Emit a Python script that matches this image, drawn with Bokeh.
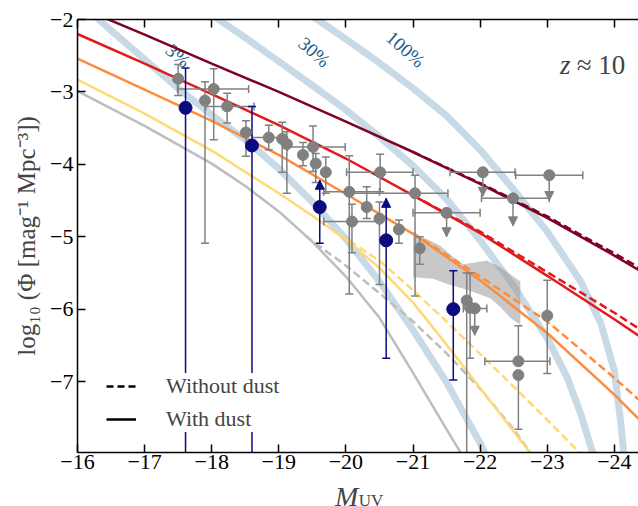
import numpy as np
from bokeh.core.properties import value
from bokeh.embed import file_html
from bokeh.models import (ColumnDataSource, FixedTicker, Label, Legend, LegendItem,
                          LinearAxis, NormalHead, Range1d, TeeHead, Whisker)
from bokeh.plotting import figure
from bokeh.resources import INLINE

SERIF = "Liberation Serif"

# model luminosity functions, with dust (solid) and without dust (dashed)
m_maroon = [-16.0, -17.0, -18.0, -19.0, -20.0, -21.0, -22.0, -23.0, -24.0, -24.4]
phi_maroon = [-1.82, -2.21, -2.61, -3.00, -3.41, -3.83, -4.27, -4.74, -5.26, -5.48]
m_maroon_nd = [-21.0, -22.0, -23.0, -24.0, -24.4]
phi_maroon_nd = [-3.83, -4.26, -4.72, -5.23, -5.44]

m_red = [-16.0, -17.0, -18.0, -19.0, -20.0, -21.0, -22.0, -23.0, -24.0, -24.4]
phi_red = [-2.20, -2.61, -3.03, -3.46, -3.92, -4.43, -4.95, -5.54, -6.14, -6.39]
m_red_nd = [-21.0, -22.0, -23.0, -24.0, -24.4]
phi_red_nd = [-4.43, -4.93, -5.49, -6.05, -6.29]

m_orange = [-16.0, -17.0, -18.0, -19.0, -20.0, -21.0, -22.0, -23.0, -24.0, -24.4]
phi_orange = [-2.54, -2.97, -3.40, -3.87, -4.41, -4.96, -5.60, -6.33, -7.18, -7.55]
m_orange_nd = [-21.0, -22.0, -23.0, -24.0, -24.4]
phi_orange_nd = [-4.95, -5.55, -6.17, -6.95, -7.28]

m_yellow = [-16.0, -17.0, -18.0, -19.0, -19.5, -20.0, -20.5, -21.0, -21.5, -22.0, -22.5, -22.8]
phi_yellow = [-2.83, -3.30, -3.81, -4.40, -4.71, -5.04, -5.43, -5.91, -6.49, -7.09, -7.69, -8.05]
m_yellow_nd = [-19.9, -20.5, -21.0, -21.5, -22.0, -22.5, -23.0, -23.5, -23.6]
phi_yellow_nd = [-4.97, -5.33, -5.74, -6.17, -6.62, -7.07, -7.53, -8.00, -8.09]

m_grey = [-16.0, -17.0, -18.0, -18.5, -19.0, -19.5, -20.0, -20.5, -21.0, -21.5, -21.8]
phi_grey = [-2.99, -3.47, -3.99, -4.30, -4.65, -5.07, -5.55, -6.12, -6.88, -7.66, -8.12]
m_grey_nd = [-19.4, -20.0, -20.5, -21.0, -21.5, -22.0, -22.5, -22.8]
phi_grey_nd = [-4.99, -5.40, -5.78, -6.17, -6.61, -7.10, -7.66, -8.05]

# constant efficiency curves
m_eff3 = [-16.2, -16.5, -17.0, -17.5, -18.0, -18.5, -19.0, -19.5, -20.0, -20.5, -21.0, -21.5, -22.0, -22.1]
phi_eff3 = [-1.90, -2.15, -2.55, -2.95, -3.32, -3.66, -4.06, -4.52, -5.03, -5.62, -6.29, -7.01, -7.85, -8.05]
m_eff30 = [-17.9, -18.5, -19.0, -19.5, -20.0, -20.5, -21.0, -21.5, -22.0, -22.5, -23.0, -23.3, -23.5, -23.7]
phi_eff30 = [-1.87, -2.25, -2.58, -2.91, -3.25, -3.62, -4.02, -4.48, -5.05, -5.68, -6.40, -6.95, -7.45, -8.05]
m_eff100 = [-19.4, -20.0, -20.5, -21.0, -21.5, -22.0, -22.5, -23.0, -23.5, -23.8, -24.0, -24.1, -24.15]
phi_eff100 = [-1.89, -2.27, -2.60, -2.95, -3.33, -3.80, -4.35, -4.93, -5.62, -6.20, -6.85, -7.60, -8.10]
eff_labels = ["3%", "30%", "100%"]
eff_label_m = [-17.50, -19.53, -20.89]
eff_label_phi = [-2.50, -2.45, -2.41]

# shaded constraint
shade_m = [-21.0, -21.2, -21.4, -21.6, -21.75, -21.9, -22.1, -22.3, -22.45, -22.6,
           -22.6, -22.45, -22.3, -22.15, -21.95, -21.75, -21.5, -21.3, -21.0]
shade_phi = [-4.98, -5.03, -5.12, -5.28, -5.38, -5.36, -5.33, -5.42, -5.52, -5.62,
             -6.22, -6.12, -5.97, -5.85, -5.78, -5.72, -5.65, -5.58, -5.56]

# grey observations (None = no bar / open to the bottom)
obs_m = [-17.50, -17.90, -18.03, -18.23, -18.51, -18.85, -19.05, -19.12, -19.36, -19.51,
         -19.55, -19.70, -20.05, -20.51, -20.09, -21.03, -20.31, -20.50, -20.79, -21.10,
         -21.80, -21.85, -22.57, -22.57, -23.00]
obs_phi = [-2.82, -3.12, -2.96, -3.20, -3.56, -3.63, -3.65, -3.72, -3.87, -3.76,
           -3.99, -4.11, -4.38, -4.11, -4.79, -4.40, -4.59, -4.75, -4.90, -5.16,
           -5.88, -5.98, -6.72, -6.91, -6.09]
obs_phi_lo = [-3.05, -5.09, -3.66, -3.43, -3.89, -3.80, -4.11, -4.40, -4.02, -4.10,
              -4.25, -4.40, -5.79, -4.38, -5.22, -5.82, -4.75, -5.66, -5.09, -5.38,
              None, -6.68, -6.72, -7.66, -6.89]
obs_phi_hi = [-2.62, -2.86, -2.68, -3.02, -3.40, -3.46, -3.42, -3.55, -3.70, -3.47,
              -3.85, -3.90, -3.88, -3.86, -4.55, -4.15, -4.31, -4.52, -4.77, -5.00,
              -5.50, -5.50, -6.23, -6.91, -5.60]
obs_m_lo = [None, None, -17.49, -17.91, None, -18.60, None, None, None, -19.13,
            None, None, -19.67, -20.01, -19.67, -20.06, None, None, None, None,
            None, None, -22.07, None, None]
obs_m_hi = [None, None, -18.55, -18.63, None, -19.10, None, None, None, -19.99,
            None, None, -20.50, -21.00, -20.50, -21.52, None, None, None, None,
            None, None, -23.04, None, None]

# grey upper limits
ul_m = [-21.50, -22.04, -22.49, -23.03, -21.92]
ul_phi = [-4.67, -4.11, -4.47, -4.15, -5.99]
ul_m_lo = [-21.00, -21.55, -22.02, -22.53, -21.75]
ul_m_hi = [-22.00, -22.52, -23.03, -23.53, -22.10]
ul_tip = [-5.00, -4.44, -4.85, -4.50, -6.36]

# navy points (None = open to the bottom)
new_m = [-17.61, -18.60, -19.61, -20.60, -21.60]
new_phi = [-3.22, -3.74, -4.59, -5.05, -6.00]
new_phi_hi = [-2.67, -3.20, -4.22, -4.47, -5.47]
new_phi_lo = [None, None, -5.09, -6.68, -6.98]
new_lower_limit = [False, False, True, True, False]

x_ticks = [-16, -17, -18, -19, -20, -21, -22, -23, -24]
y_ticks = [-7, -6, -5, -4, -3, -2]

X0, X1 = -16.0, -24.36
Y0, Y1 = -7.98, -2.0

GREY = "#808080"
NAVY = "#0b0b80"
BAND = "#c8dae6"

p = figure(width=638, height=506, x_range=Range1d(X0, X1), y_range=Range1d(Y0, Y1),
           output_backend="svg", toolbar_location=None, tools="",
           min_border_left=77, min_border_right=0, min_border_top=16, min_border_bottom=54)
p.outline_line_color = None
p.grid.visible = False

for m, phi in [(m_eff3, phi_eff3), (m_eff30, phi_eff30), (m_eff100, phi_eff100)]:
    p.line(m, phi, line_color=BAND, line_width=7)

p.text(x=eff_label_m, y=eff_label_phi, text=eff_labels, angle=-0.72,
       text_font=value(SERIF), text_font_size="19px", text_color="#215b88",
       text_align="center", text_baseline="middle")

p.patch(shade_m, shade_phi, fill_color="#9a9a9a", fill_alpha=0.55, line_color=None)

curves = [
    ("#bdbdbd", m_grey, phi_grey, m_grey_nd, phi_grey_nd),
    ("#fed976", m_yellow, phi_yellow, m_yellow_nd, phi_yellow_nd),
    ("#fd8d3c", m_orange, phi_orange, m_orange_nd, phi_orange_nd),
    ("#e31a1c", m_red, phi_red, m_red_nd, phi_red_nd),
    ("#800026", m_maroon, phi_maroon, m_maroon_nd, phi_maroon_nd),
]
for color, m, phi, m_nd, phi_nd in curves:
    p.line(m_nd, phi_nd, line_color=color, line_width=2.5, line_dash="8 4")
    p.line(m, phi, line_color=color, line_width=2.5)


def bars(src, dim, lower_head, upper_head, color):
    p.add_layout(Whisker(source=src, base="base", lower="lower", upper="upper",
                         dimension=dim, line_color=color, line_width=1.5,
                         lower_head=lower_head, upper_head=upper_head, level="glyph"))


def tee(color):
    return TeeHead(size=8, line_color=color, line_width=1.5)


def arrow(color):
    return NormalHead(size=9, fill_color=color, line_color=color, line_width=1)


# grey vertical bars
idx = [i for i in range(len(obs_m)) if obs_phi_lo[i] is not None]
bars(ColumnDataSource(dict(base=[obs_m[i] for i in idx], lower=[obs_phi_lo[i] for i in idx],
                           upper=[obs_phi_hi[i] for i in idx])), "height", tee(GREY), tee(GREY), GREY)
idx = [i for i in range(len(obs_m)) if obs_phi_lo[i] is None]
bars(ColumnDataSource(dict(base=[obs_m[i] for i in idx], lower=[Y0] * len(idx),
                           upper=[obs_phi_hi[i] for i in idx])), "height", None, tee(GREY), GREY)
# grey horizontal bars
idx = [i for i in range(len(obs_m)) if obs_m_lo[i] is not None]
bars(ColumnDataSource(dict(base=[obs_phi[i] for i in idx], lower=[obs_m_hi[i] for i in idx],
                           upper=[obs_m_lo[i] for i in idx])), "width", tee(GREY), tee(GREY), GREY)
bars(ColumnDataSource(dict(base=ul_phi, lower=ul_m_hi, upper=ul_m_lo)), "width", tee(GREY), tee(GREY), GREY)
# grey upper limits
bars(ColumnDataSource(dict(base=ul_m, lower=ul_tip, upper=ul_phi)), "height", arrow(GREY), None, GREY)

# navy bars
idx = [i for i in range(len(new_m)) if new_phi_lo[i] is None]
bars(ColumnDataSource(dict(base=[new_m[i] for i in idx], lower=[Y0] * len(idx),
                           upper=[new_phi_hi[i] for i in idx])), "height", None, tee(NAVY), NAVY)
idx = [i for i in range(len(new_m)) if new_phi_lo[i] is not None and new_lower_limit[i]]
bars(ColumnDataSource(dict(base=[new_m[i] for i in idx], lower=[new_phi_lo[i] for i in idx],
                           upper=[new_phi_hi[i] for i in idx])), "height", tee(NAVY), arrow(NAVY), NAVY)
idx = [i for i in range(len(new_m)) if new_phi_lo[i] is not None and not new_lower_limit[i]]
bars(ColumnDataSource(dict(base=[new_m[i] for i in idx], lower=[new_phi_lo[i] for i in idx],
                           upper=[new_phi_hi[i] for i in idx])), "height", tee(NAVY), tee(NAVY), NAVY)

p.scatter(obs_m, obs_phi, size=11, fill_color=GREY, line_color=GREY, level="overlay")
p.scatter(ul_m, ul_phi, size=11, fill_color=GREY, line_color=GREY, level="overlay")
p.scatter(new_m, new_phi, size=13, fill_color=NAVY, line_color=NAVY, level="overlay")

# legend proxies (a single NaN point: nothing is drawn in the frame)
r_nd = p.line(x=[np.nan], y=[np.nan], line_color="black", line_width=2.5, line_dash="7 4")
r_d = p.line(x=[np.nan], y=[np.nan], line_color="black", line_width=2.5)
legend = Legend(items=[LegendItem(label="Without dust", renderers=[r_nd]),
                       LegendItem(label="With dust", renderers=[r_d])],
                location=(29, 20), glyph_width=30, glyph_height=26, label_height=26,
                label_standoff=30, spacing=7, padding=6, margin=0,
                label_text_font=SERIF, label_text_font_size="22px",
                border_line_color=None, background_fill_color="white", background_fill_alpha=1.0)
p.add_layout(legend)

# axes
minus = lambda t: "\u2212" + str(abs(t))
p.xaxis.ticker = FixedTicker(ticks=x_ticks)
p.xaxis.major_label_overrides = {t: minus(t) for t in x_ticks}
p.yaxis.ticker = FixedTicker(ticks=y_ticks)
p.yaxis.major_label_overrides = {t: minus(t) for t in y_ticks}
for ax in (p.xaxis, p.yaxis):
    ax.major_tick_in = 8
    ax.major_tick_out = 0
    ax.minor_tick_line_color = None
    ax.axis_line_width = 1.5
    ax.major_tick_line_width = 1.5
    ax.major_label_text_font = SERIF
    ax.major_label_text_font_size = "22px"
    ax.major_label_text_color = "black"
p.xaxis.major_label_standoff = 2
p.yaxis.major_label_standoff = 4
p.yaxis.axis_label = "log\u2081\u2080 (\u03a6 [mag\u207b\u00b9 Mpc\u207b\u00b3])"
p.yaxis.axis_label_text_font = SERIF
p.yaxis.axis_label_text_font_style = "normal"
p.yaxis.axis_label_text_font_size = "25px"
p.yaxis.axis_label_standoff = 7

# top spine with inward ticks only
top = LinearAxis(ticker=FixedTicker(ticks=x_ticks), major_label_text_font_size="0px",
                 major_label_overrides={t: "" for t in x_ticks},
                 major_label_standoff=0, major_tick_in=8, major_tick_out=0,
                 minor_tick_line_color=None, axis_line_width=1.5, major_tick_line_width=1.5)
p.add_layout(top, "above")

# x axis title M_UV: kept in side panels so the frame does not clip it,
# positioned in data units just under the tick labels
p.add_layout(Label(x=-20.01, y=-8.584, text="M", text_font=SERIF,
                   text_font_style="italic", text_font_size="28px", text_align="center",
                   text_baseline="alphabetic"), "below")
p.add_layout(Label(x=-20.19, y=-8.638, text="UV", text_font=SERIF,
                   text_font_size="17px", text_align="left", text_baseline="alphabetic"), "above")

p.add_layout(Label(x=-23.345, y=-2.633, text="z", text_font=SERIF, text_font_style="italic",
                   text_font_size="27px", text_align="right", text_baseline="alphabetic"))
p.add_layout(Label(x=-24.164, y=-2.633, text="\u2248 10", text_font=SERIF,
                   text_font_size="27px", text_align="right", text_baseline="alphabetic"))

open("out.html", "w").write(file_html(p, INLINE))
